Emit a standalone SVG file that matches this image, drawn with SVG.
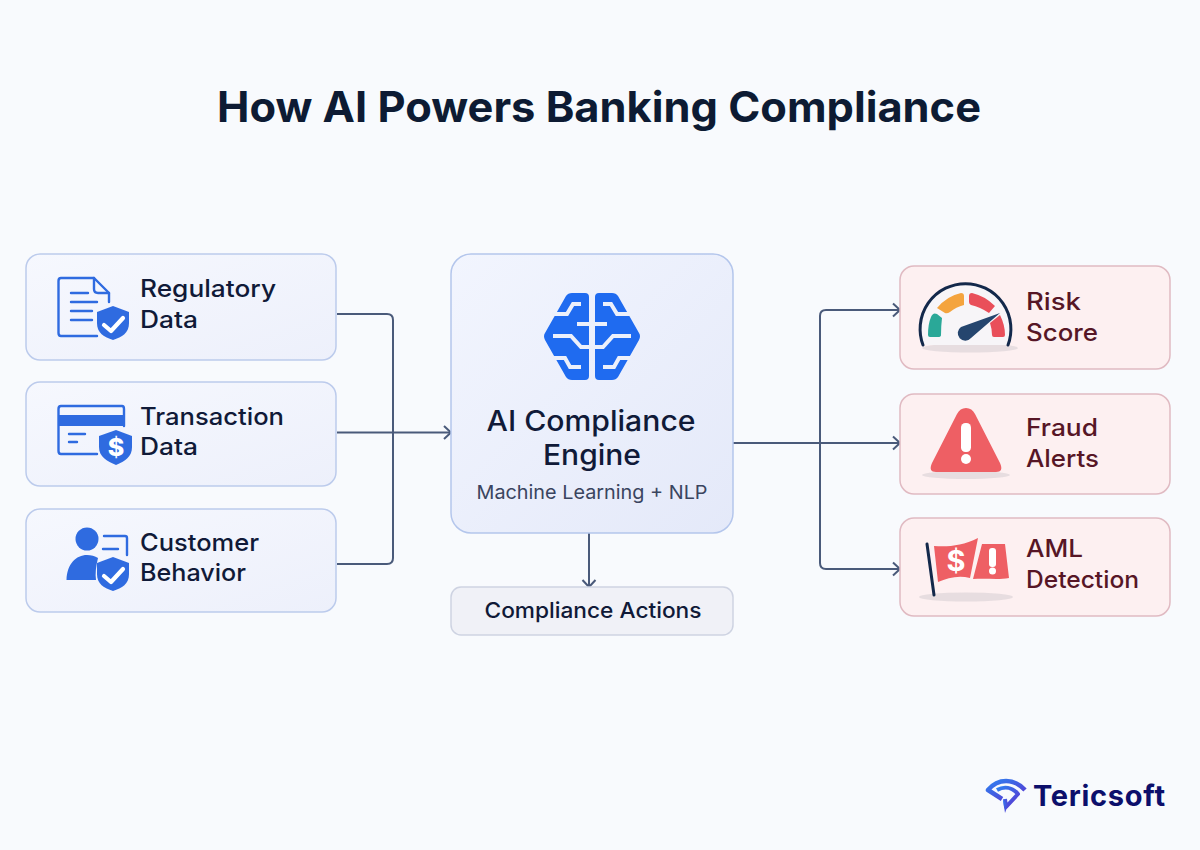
<svg xmlns="http://www.w3.org/2000/svg" width="1200" height="850" viewBox="0 0 1200 850">
<defs>
<linearGradient id="blueCard" x1="0" y1="0" x2="1" y2="1"><stop offset="0" stop-color="#f6f8fe"/><stop offset="1" stop-color="#edf0fb"/></linearGradient>
<linearGradient id="engineCard" x1="0" y1="0" x2="1" y2="1"><stop offset="0" stop-color="#f2f5fe"/><stop offset="1" stop-color="#e4e9f9"/></linearGradient>
<linearGradient id="logoGrad" x1="0" y1="0" x2="1" y2="1"><stop offset="0" stop-color="#2f80f0"/><stop offset="1" stop-color="#5a35d0"/></linearGradient>
<marker id="arrow" markerUnits="userSpaceOnUse" markerWidth="16" markerHeight="16" refX="11" refY="8" orient="auto"><path d="M4 1.500L11 8L4 14.500" fill="none" stroke="#4a5a7a" stroke-width="2"/></marker>
</defs>
<style>
text{font-family:Inter,"Liberation Sans",sans-serif}
.card{fill:url(#blueCard);stroke:#bccbec;stroke-width:1.5}
.red{fill:#fdf0f1;stroke:#e0bac2;stroke-width:1.5}
.lbl{font-size:24px;font-weight:450;fill:#101a38}
.rlbl{font-size:24px;font-weight:450;fill:#571626}
.wire{fill:none;stroke:#4a5a7a;stroke-width:2}
.ib{fill:none;stroke:#2f6be0;stroke-width:2.4;stroke-linejoin:round;stroke-linecap:round}
.sh{fill:#2f6be0}
.chk{fill:none;stroke:#fff;stroke-width:4.2;stroke-linecap:round;stroke-linejoin:round}
.rf{fill:#ee5f64}
.shadow{fill:#9a9aa6;opacity:.22}
</style>
<rect width="1200" height="850" fill="#f8fafd"/>
<text id="title" x="599" y="122" text-anchor="middle" font-size="42" font-weight="700" fill="#0d1b33" textLength="764" lengthAdjust="spacingAndGlyphs">How AI Powers Banking Compliance</text>

<g id="connectors">
<path class="wire" d="M337 314H387Q393 314 393 320V558Q393 564 387 564H337"/>
<path class="wire" marker-end="url(#arrow)" d="M337 432.500H451"/>
<path class="wire" d="M733 443H900" marker-end="url(#arrow)"/>
<path class="wire" marker-end="url(#arrow)" d="M820 443V316Q820 310 826 310H900"/>
<path class="wire" marker-end="url(#arrow)" d="M820 443V563Q820 569 826 569H900"/>
<path class="wire" marker-end="url(#arrow)" d="M589 533V587"/>
</g>

<g id="regulatory-data">
<rect class="card" x="26" y="254" width="310" height="106" rx="14"/>
<path class="ib" d="M97 336H61Q58.500 336 58.500 333V281Q58.500 278 61 278H94L109 293V302"/>
<path class="ib" d="M94 278V289Q94 293 98 293H109"/>
<path class="ib" d="M71 293H88M71 302H97M71 311H92M71 320H92"/>
<path class="sh" d="M113 306L129 312V323C129 333 122 337 113 340C104 337 97 333 97 323V312Z"/>
<path class="chk" d="M104 325L111 331L123 318"/>
<text class="lbl" x="140" y="297" textLength="136" lengthAdjust="spacingAndGlyphs">Regulatory</text>
<text class="lbl" x="140" y="328" textLength="58" lengthAdjust="spacingAndGlyphs">Data</text>
</g>

<g id="transaction-data">
<rect class="card" x="26" y="382" width="310" height="104" rx="14"/>
<path class="ib" d="M97 454H61Q58.500 454 58.500 451V409Q58.500 406 61 406H122Q124 406 124 409V426"/>
<rect x="58" y="415" width="66" height="11" fill="#2f6be0"/>
<path class="ib" d="M69 434H85M69 442H77"/>
<path class="sh" d="M116 430L132 436V447C132 457 125 461 116 465C107 461 99 457 99 447V436Z"/>
<text x="116" y="456" text-anchor="middle" font-size="25" font-weight="800" fill="#fff">$</text>
<text class="lbl" x="140" y="425" textLength="144" lengthAdjust="spacingAndGlyphs">Transaction</text>
<text class="lbl" x="140" y="455" textLength="58" lengthAdjust="spacingAndGlyphs">Data</text>
</g>

<g id="customer-behavior">
<rect class="card" x="26" y="509" width="310" height="103" rx="14"/>
<circle class="sh" cx="87" cy="539" r="11.500"/>
<path class="sh" d="M66.500 580C67 564 76 555 87 555C91 555 95 556 98 558C96 566 95 574 96 580Z"/>
<path class="ib" d="M104 536H125Q127 536 127 538V555M103 549H118"/>
<path class="sh" d="M113 557L129 563V574C129 584 122 588 113 591C104 588 97 584 97 574V563Z"/>
<path class="chk" d="M104 576L111 582L123 569"/>
<text class="lbl" x="140" y="551" textLength="119" lengthAdjust="spacingAndGlyphs">Customer</text>
<text class="lbl" x="140" y="581" textLength="106" lengthAdjust="spacingAndGlyphs">Behavior</text>
</g>

<g id="ai-engine">
<rect x="451" y="254" width="282" height="279" rx="20" fill="url(#engineCard)" stroke="#b4c6ec" stroke-width="1.5"/>
<path fill="#1f6bf0" d="M589 297V376Q589 380 585 380H572Q568 380 566 377L545 340Q543 336 545 333L566 296Q568 293 572 293H585Q589 293 589 297Z"/>
<path fill="#1f6bf0" d="M595 297V376Q595 380 599 380H612Q616 380 618 377L639 340Q641 336 639 333L618 296Q616 293 612 293H599Q595 293 595 297Z"/>
<path fill="none" stroke="#ecf0fb" stroke-width="4" d="M552 314H567L573 304H581M553 336H571L581 347H590M553 358H565L570 367H581M577 324H607M632 314H617L611 304H603M631 336H613L603 347H594M631 358H619L614 367H603"/>
<text x="591" y="431" text-anchor="middle" font-size="28" font-weight="500" fill="#101a38" textLength="209" lengthAdjust="spacingAndGlyphs">AI Compliance</text>
<text x="592" y="465" text-anchor="middle" font-size="28" font-weight="500" fill="#101a38" textLength="98" lengthAdjust="spacingAndGlyphs">Engine</text>
<text x="592" y="499" text-anchor="middle" font-size="19" fill="#3a4560" textLength="231" lengthAdjust="spacingAndGlyphs">Machine Learning + NLP</text>
</g>

<g id="compliance-actions">
<rect x="451" y="587" width="282" height="48" rx="10" fill="#f0f1f7" stroke="#ced3e2" stroke-width="1.500"/>
<text x="593" y="618" text-anchor="middle" font-size="21.500" font-weight="450" fill="#101a38" textLength="217" lengthAdjust="spacingAndGlyphs">Compliance Actions</text>
</g>

<g id="risk-score">
<rect class="red" x="900" y="266" width="270" height="103" rx="14"/>
<ellipse class="shadow" cx="970" cy="348" rx="48" ry="4.500"/>
<path d="M923 345A45.400 45.400 0 1 1 1008 345Z" fill="#f7f5f8"/>
<path d="M923 345A45.400 45.400 0 1 1 1008 345" fill="none" stroke="#13294b" stroke-width="3" stroke-linecap="round"/>
<path fill="#2aa898" d="M928 335Q928 324 931 317Q933 312 937 314L942 318Q941 326 941 335Q941 337 938 337H930Q928 337 928 335Z"/>
<path fill="#f4a43e" d="M937 308Q947 296 961 293Q964 293 964 296V305Q956 307 950 312Q947 314 945 313Z"/>
<path fill="#e94f5a" d="M969 296Q969 293 972 293Q985 296 995 306L989 313Q980 307 971 305Q969 304 969 302Z"/>
<path fill="#e94f5a" d="M1000 315Q1005 325 1005 335Q1005 337 1003 337H994Q992 337 992 335Q992 329 990 323Z"/>
<path fill="#25456e" d="M1000 313L971 338A7.500 7.500 0 1 1 961 327Z"/>
<text class="rlbl" x="1026" y="310" textLength="55" lengthAdjust="spacingAndGlyphs">Risk</text>
<text class="rlbl" x="1026" y="341" textLength="72" lengthAdjust="spacingAndGlyphs">Score</text>
</g>

<g id="fraud-alerts">
<rect class="red" x="900" y="394" width="270" height="100" rx="14"/>
<ellipse class="shadow" cx="966" cy="475" rx="44" ry="4"/>
<path class="rf" d="M966 408C970 408 973 410 975 414L1000 463Q1004 472 996 472H936Q928 472 932 463L957 414C959 410 962 408 966 408Z"/>
<rect x="961" y="423" width="10" height="29" rx="4.500" fill="#fff"/>
<circle cx="966" cy="459" r="5" fill="#fff"/>
<text class="rlbl" x="1026" y="436" textLength="72" lengthAdjust="spacingAndGlyphs">Fraud</text>
<text class="rlbl" x="1026" y="467" textLength="73" lengthAdjust="spacingAndGlyphs">Alerts</text>
</g>

<g id="aml-detection">
<rect class="red" x="900" y="518" width="270" height="98" rx="14"/>
<ellipse class="shadow" cx="966" cy="597" rx="47" ry="4.500"/>
<path d="M927 544L934 595" fill="none" stroke="#13294b" stroke-width="3" stroke-linecap="round"/>
<path class="rf" d="M934 546C948 547 962 546 978 538L970 578C958 575 948 578 938 582Z"/>
<path class="rf" d="M982 544H1005L1009 578C998 580 986 578 973 579Z"/>
<text x="956" y="571" text-anchor="middle" font-size="29" font-weight="700" fill="#fff">$</text>
<rect x="989" y="548" width="7" height="19" rx="3" fill="#fff"/><circle cx="992.500" cy="571" r="3.500" fill="#fff"/>
<text class="rlbl" x="1026" y="557" textLength="57" lengthAdjust="spacingAndGlyphs">AML</text>
<text class="rlbl" x="1026" y="588" textLength="113" lengthAdjust="spacingAndGlyphs">Detection</text>
</g>

<g id="logo">
<path fill="none" stroke="url(#logoGrad)" stroke-width="4.500" stroke-linejoin="round" d="M1002 799L988 790C998 778 1014 778 1025 790"/>
<path fill="none" stroke="url(#logoGrad)" stroke-width="4" stroke-linejoin="round" d="M997 790C1004 786 1012 787 1018 794L1006 807L1005 799"/>
<path fill="url(#logoGrad)" d="M1003 800L1008 805L1005 813Z"/>
<text x="1033" y="806" font-size="29" font-weight="700" fill="#0c0f6b" textLength="132" lengthAdjust="spacing">Tericsoft</text>
</g>
</svg>
